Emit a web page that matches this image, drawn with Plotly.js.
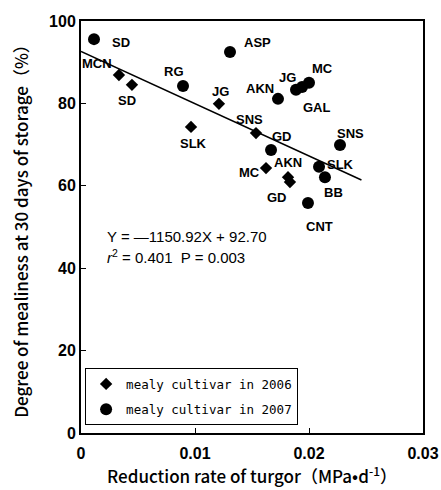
<!DOCTYPE html>
<html>
<head>
<meta charset="utf-8">
<script src="https://cdn.plot.ly/plotly-3.0.1.min.js"></script>
<style>html,body{margin:0;padding:0;background:#fff;}#chart{width:441px;height:490px;}</style>
</head>
<body>
<div id="chart"></div>
<script>
// 2006 cultivars (diamonds)
const names2006 = ["MCN", "SD", "SLK", "JG", "SNS", "MC", "AKN", "GD"];
const x2006 = [0.00333, 0.00447, 0.00965, 0.0121, 0.01535, 0.01623, 0.01816, 0.01833];
const y2006 = [86.9, 84.5, 74.3, 79.9, 72.8, 64.3, 62.1, 60.9];

// 2007 cultivars (circles)
const names2007 = ["SD", "RG", "ASP", "AKN", "JG", "MC", "GAL", "GD", "SNS", "SLK", "BB", "CNT"];
const x2007 = [0.00114, 0.00895, 0.01307, 0.01728, 0.01886, 0.01939, 0.0200, 0.01667, 0.02272, 0.02088, 0.0214, 0.01991];
const y2007 = [95.6, 84.2, 92.5, 81.1, 83.3, 84.0, 85.0, 68.7, 69.9, 64.6, 62.1, 55.8];

// Regression line (endpoints)
const fitX = [0, 0.0246];
const fitY = [92.6, 61.4];

const xTicks = [0, 0.01, 0.02, 0.03];
const xTickText = ["0", "0.01", "0.02", "0.03"];
const yTicks = [0, 20, 40, 60, 80, 100];

const eqLine1 = "Y = \u20141150.92X + 92.70";
const eqLine2 = "<i>r</i><sup>2</sup> = 0.401  P = 0.003";

// label offsets in pixels (style, not data)
const off2006 = [[-22,-11],[-5,16],[2,17],[2,-12],[-6,-14],[-17,4],[0,-15],[-13,15]];
const off2007 = [[27,3],[-9,-15],[27,-9],[-18,-10],[-9,-12],[20,-18],[8,25],[11,-13],[10,-12],[21,-2],[9,15],[12,23]];

const FONT = "Liberation Sans, Arial, sans-serif";
const annotations = [];
function addLabels(names, xs, ys, offs) {
  names.forEach((n, i) => {
    annotations.push({
      x: xs[i], y: ys[i], xref: "x", yref: "y", text: "<b>" + n + "</b>", showarrow: false,
      xshift: offs[i][0], yshift: -offs[i][1],
      font: {family: FONT, size: 13, color: "#000"}
    });
  });
}
addLabels(names2006, x2006, y2006, off2006);
addLabels(names2007, x2007, y2007, off2007);
annotations.push({x: 0.0021, y: 47.8, xref: "x", yref: "y", xanchor: "left", text: eqLine1, showarrow: false, font: {family: FONT, size: 15, color: "#000"}});
annotations.push({x: 0.0021, y: 42.9, xref: "x", yref: "y", xanchor: "left", text: eqLine2, showarrow: false, font: {family: FONT, size: 15, color: "#000"}});

const traces = [
  {x: fitX, y: fitY, mode: "lines", line: {color: "#000", width: 1.5}, showlegend: false, hoverinfo: "skip"},
  {x: x2006, y: y2006, mode: "markers", name: "mealy cultivar in 2006", legendgroup: "g2006", marker: {symbol: "diamond", size: 9.5, color: "#000"}},
  {x: x2007, y: y2007, mode: "markers", name: "mealy cultivar in 2007", legendgroup: "g2007", marker: {symbol: "circle", size: 12, color: "#000"}}
];

const layout = {
  width: 441, height: 490,
  margin: {l: 81, r: 18, t: 21, b: 57},
  paper_bgcolor: "#fff", plot_bgcolor: "#fff",
  font: {family: FONT, color: "#000"},
  showlegend: true,
  legend: {
    x: 0.012, y: 0.157, xanchor: "left", yanchor: "top",
    bordercolor: "#000", borderwidth: 1, bgcolor: "#fff",
    font: {family: "DejaVu Sans Mono, monospace", size: 12.5, color: "#000", weight: 500},
    itemwidth: 30, tracegroupgap: 6
  },
  xaxis: {
    range: [0, 0.03], tickvals: xTicks, ticktext: xTickText,
    ticks: "inside", ticklen: 5, tickwidth: 1, tickcolor: "#000",
    ticklabelstandoff: 5,
    showline: true, linecolor: "#000", linewidth: 2, mirror: true,
    showgrid: false, zeroline: false,
    tickfont: {family: FONT, size: 16, color: "#000", weight: "bold"},
    title: {text: "Reduction rate of turgor\uFF08MPa\u2022d<sup>-1</sup>\uFF09", font: {family: "Noto Sans CJK JP, sans-serif", size: 17, color: "#000", weight: 500}, standoff: 10}
  },
  yaxis: {
    range: [0, 100], tickvals: yTicks,
    ticks: "inside", ticklen: 5, tickwidth: 1, tickcolor: "#000",
    showline: true, linecolor: "#000", linewidth: 2, mirror: true,
    showgrid: false, zeroline: false,
    tickfont: {family: FONT, size: 16, color: "#000", weight: "bold"},
    title: {text: "Degree of mealiness at 30 days of storage\uFF08%\uFF09", font: {family: "Noto Sans CJK JP, sans-serif", size: 17, color: "#000", weight: 500}, standoff: 16}
  },
  annotations: annotations
};

Plotly.newPlot("chart", traces, layout, {displayModeBar: false, staticPlot: true});
</script>
</body>
</html>
